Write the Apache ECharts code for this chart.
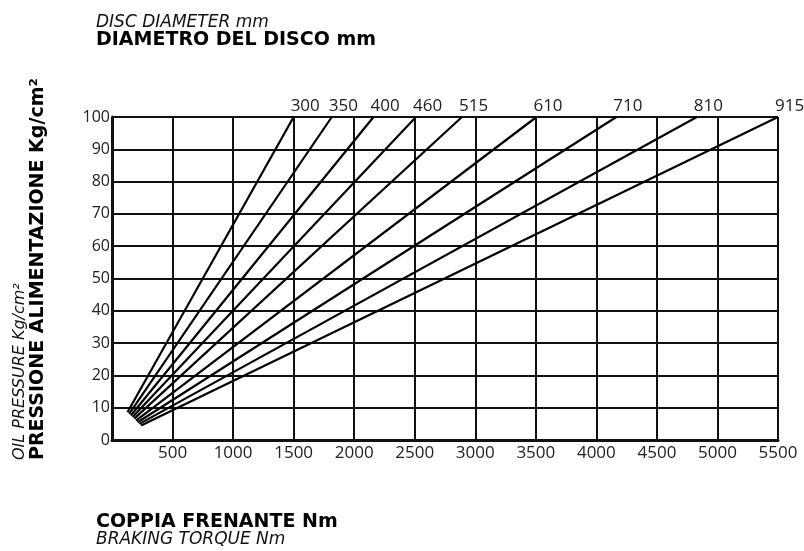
<!DOCTYPE html>
<html>
<head>
<meta charset="utf-8">
<script src="https://cdn.jsdelivr.net/npm/echarts@6/dist/echarts.min.js"></script>
<style>
  html, body { margin: 0; padding: 0; background: #fff; }
  #chart { width: 804px; height: 551px; }
</style>
</head>
<body>
<div id="chart"></div>
<script>
// Disc diameters (mm) — one straight line per disc, from its low-pressure start to 100 kg/cm².
const diameters = ['300', '350', '400', '460', '515', '610', '710', '810', '915'];
const startTorque = [128, 142, 156, 170, 184, 198, 212, 226, 240];
const startPressure = [8.6, 8.1, 7.6, 7.1, 6.6, 6.0, 5.5, 5.0, 4.5];
const endTorque = [1500, 1815, 2160, 2510, 2890, 3505, 4165, 4830, 5500];
const endPressure = [100, 100, 100, 100, 100, 100, 100, 100, 100];

const INK = '#111';
const NUM_FONT = 'Open Sans';
const TITLE_FONT = 'DejaVu Sans';

const series = diameters.map((d, i) => ({
  name: d,
  type: 'line',
  data: [[startTorque[i], startPressure[i]], [endTorque[i], endPressure[i]]],
  symbol: 'none',
  lineStyle: { color: '#000', width: 2.2 },
  endLabel: {
    show: true, formatter: '{a}', distance: 0, offset: [-3, -11],
    color: '#222', fontFamily: NUM_FONT, fontSize: 17,
  },
  z: 3,
}));

const axisCommon = {
  type: 'value',
  axisLine: { show: true, onZero: false, lineStyle: { color: INK, width: 3 } },
  axisTick: { show: false },
  splitLine: { show: true, lineStyle: { color: INK, width: 2 } },
};

const chart = echarts.init(document.getElementById('chart'), null, { renderer: 'canvas' });
chart.setOption({
  animation: false,
  backgroundColor: '#ffffff',
  grid: { left: 112, right: 26, top: 117, bottom: 111, containLabel: false },
  xAxis: {
    ...axisCommon, min: 0, max: 5500, interval: 500,
    axisLabel: { fontFamily: NUM_FONT, fontSize: 17, color: '#222', margin: 5,
      formatter: (v) => (v === 0 ? '' : String(v)) },
  },
  yAxis: {
    ...axisCommon, min: 0, max: 100, interval: 10,
    axisLabel: { fontFamily: NUM_FONT, fontSize: 16, color: '#222', margin: 2 },
  },
  series,
  graphic: [
    { type: 'text', left: 96, top: 14,
      style: { text: 'DISC DIAMETER mm', font: `italic 17px "${TITLE_FONT}"`, fill: '#111' } },
    { type: 'text', left: 96, top: 31,
      style: { text: 'DIAMETRO DEL DISCO mm', font: `bold 19px "${TITLE_FONT}"`, fill: '#000' } },
    { type: 'text', left: 96, top: 513,
      style: { text: 'COPPIA FRENANTE Nm', font: `bold 19px "${TITLE_FONT}"`, fill: '#000' } },
    { type: 'text', left: 96, top: 531,
      style: { text: 'BRAKING TORQUE Nm', font: `italic 17px "${TITLE_FONT}"`, fill: '#111' } },
    { type: 'text', x: 20, y: 460, rotation: Math.PI / 2,
      style: { text: 'OIL PRESSURE Kg/cm²', font: `italic 16px "${TITLE_FONT}"`, fill: '#111',
        textAlign: 'left', textVerticalAlign: 'middle' } },
    { type: 'text', x: 38, y: 460, rotation: Math.PI / 2,
      style: { text: 'PRESSIONE ALIMENTAZIONE Kg/cm²', font: `bold 19px "${TITLE_FONT}"`, fill: '#000',
        textAlign: 'left', textVerticalAlign: 'middle' } },
  ],
});
</script>
</body>
</html>
